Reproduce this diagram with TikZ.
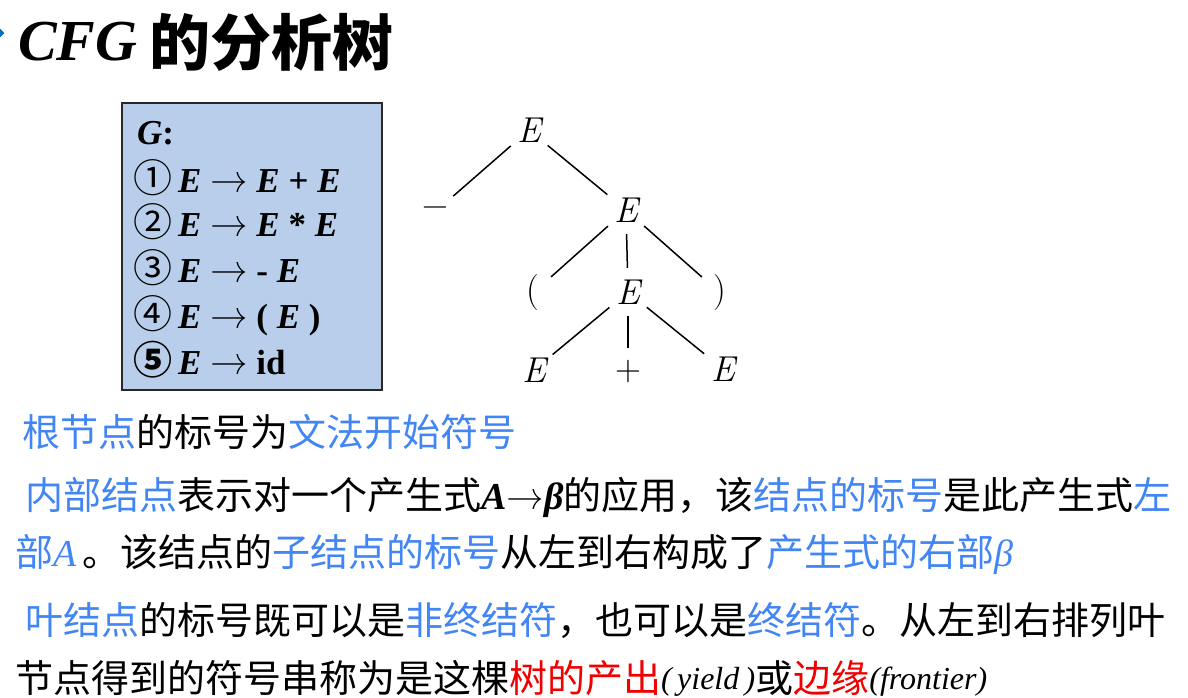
\documentclass[tikz,border=0pt]{standalone}
\usepackage{fontspec}
\usepackage{xcolor}
\usepackage{tikz}
\usetikzlibrary{shapes.geometric, positioning}
\setmainfont{Liberation Serif}
\newfontfamily\cjk{Noto Sans CJK SC}
\newfontfamily\lmr{Latin Modern Roman}
\definecolor{myblue}{RGB}{66,133,244}
\definecolor{myred}{RGB}{240,0,0}
\definecolor{boxblue}{RGB}{184,206,234}
\definecolor{mydark}{RGB}{40,40,40}
\definecolor{bulletblue}{RGB}{0,112,192}
\newcommand{\bl}[1]{\textcolor{myblue}{#1}}
\newcommand{\rd}[1]{\textcolor{myred}{#1}}
\newcommand{\lat}[1]{{\rmfamily\itshape #1}}
\newcommand{\circnum}[1]{{\cjk\fontsize{39}{40}\selectfont #1}}
\newcommand{\arr}{{\lmr\mdseries\upshape\fontsize{40}{40}\selectfont →}}
\tikzset{
  txtline/.style={anchor=west, inner sep=0pt,
    font=\cjk\fontsize{38}{40}\selectfont},
  gline/.style={anchor=west, inner sep=0pt,
    font=\fontsize{35}{36}\selectfont\bfseries\itshape},
  tnode/.style={circle, inner sep=0pt, minimum size=48pt,
    font=\lmr\fontsize{36}{38}\selectfont},
  treeline/.style={line width=1.5pt, color=black}
}

\begin{document}
\begin{tikzpicture}[x=1pt, y=-1pt]
  \useasboundingbox (0,0) rectangle (1188,697);

  % Title
  \node[diamond, fill=bulletblue, minimum size=9pt, inner sep=0pt] (blt) at (0,33) {};
  \node[anchor=west, inner sep=0pt, font=\fontsize{58}{60}\selectfont\bfseries\itshape] (cfg) at (18,42) {CFG};
  \node[right=12pt of cfg, inner sep=0pt, font=\cjk\bfseries\fontsize{61}{62}\selectfont] (ttl) {的分析树};

  % Grammar box
  \node[draw=mydark, fill=boxblue, line width=1.5pt, minimum width=260pt,
    minimum height=287pt, inner sep=0pt] (gbox) at (252,246.5) {};
  \node[gline] (g0) at (137,133) {G\textup{:}};
  \node[gline] (g1) at (133,178) {{\mdseries\circnum{①}}\,E \arr{} E \textup{+} E};
  \node[gline] (g2) at (133,222) {{\mdseries\circnum{②}}\,E \arr{} E \textup{*} E};
  \node[gline] (g3) at (133,268) {{\mdseries\circnum{③}}\,E \arr{} \textup{-} E};
  \node[gline] (g4) at (133,316) {{\mdseries\circnum{④}}\,E \arr{} \textup{(} E \textup{)}};
  \node[gline] (g5) at (133,360) {\circnum{⑤}\,E \arr{} \textup{id}};

  % Parse tree
  \node[tnode] (r) at (529,130) {\itshape E};
  \node[tnode] (m) at (435,212) {−};
  \node[tnode] (e1) at (626,210) {\itshape E};
  \node[tnode] (lp) at (533,293) {(};
  \node[tnode] (e2) at (628,292) {\itshape E};
  \node[tnode] (rp) at (720,293) {)};
  \node[tnode] (l1) at (534,370) {\itshape E};
  \node[tnode] (pl) at (628,372) {+};
  \node[tnode] (l3) at (723,369) {\itshape E};
  \draw[treeline] (r) -- (m);
  \draw[treeline] (r) -- (e1);
  \draw[treeline] (e1) -- (lp);
  \draw[treeline] (e1) -- (e2);
  \draw[treeline] (e1) -- (rp);
  \draw[treeline] (e2) -- (l1);
  \draw[treeline] (e2) -- (pl);
  \draw[treeline] (e2) -- (l3);

  % Notes
  \node[txtline] (t1) at (22,432) {\bl{根节点}的标号为\bl{文法开始符号}};
  \node[txtline] (t2) at (25,497) {\bl{内部结点}表示对一个产生式\lat{\bfseries A{\fontsize{34}{36}\selectfont\arr}β}的应用，该\bl{结点的标号}是此产生式\bl{左}};
  \node[txtline] (t3) at (15,554) {\bl{部\lat{A}}\,。该结点的\bl{子结点的标号}从左到右构成了\bl{产生式的右部\lat{β}}};
  \node[txtline] (t4) at (25,620) {\bl{叶结点}的标号既可以是\bl{非终结符}，也可以是\bl{终结符}。从左到右排列叶};
  \node[txtline] (t5) at (15,678) {节点得到的符号串称为是这棵\rd{树的产出}\raisebox{3pt}{\lat{\fontsize{32}{34}\selectfont(\,yield\,)}}或\rd{边缘}\raisebox{3pt}{\lat{\fontsize{32}{34}\selectfont(frontier)}}};
\end{tikzpicture}
\end{document}
